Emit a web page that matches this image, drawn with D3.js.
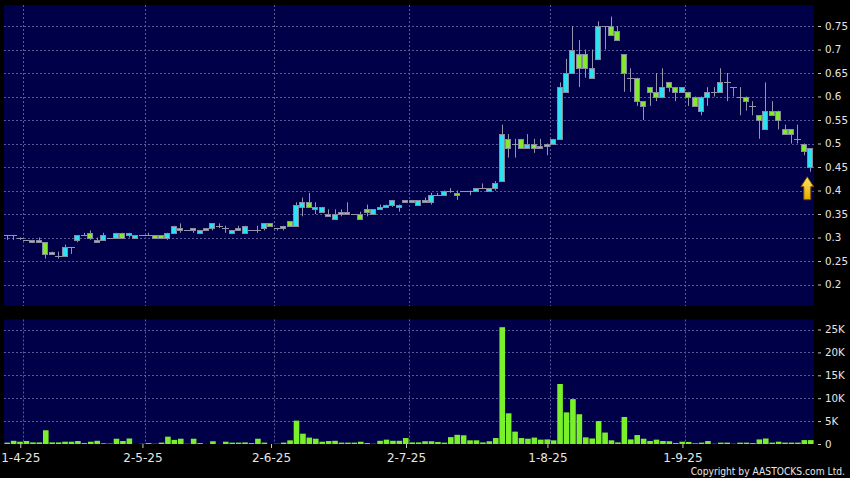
<!DOCTYPE html>
<html><head><meta charset="utf-8">
<script src="https://cdn.jsdelivr.net/npm/d3@7"></script>
<style>html,body{margin:0;padding:0;background:#000;overflow:hidden}</style>
</head><body><svg id="c" width="850" height="478"></svg>
<script>
// ---- data ----
const openP  = [.305,.305,.30,.295,.29,.295,.29,.27,.26,.26,.28,.295,.305,.31,.29,.295,.30,.30,.31,.305,.30,.305,.305,.305,.305,.30,.31,.32,.315,.315,.31,.315,.32,.325,.32,.31,.315,.31,.315,.315,.32,.33,.32,.32,.335,.325,.365,.375,.36,.355,.35,.34,.355,.35,.35,.35,.36,.35,.36,.365,.37,.365,.38,.375,.37,.375,.375,.39,.39,.40,.395,.40,.40,.40,.405,.40,.405,.42,.51,.50,.51,.49,.50,.49,.495,.50,.51,.61,.65,.69,.69,.64,.68,.75,.75,.74,.69,.64,.64,.59,.62,.61,.60,.63,.62,.61,.61,.60,.57,.60,.61,.61,.63,.62,.60,.60,.58,.56,.53,.57,.57,.53,.53,.51,.50,.45];
const highP  = [.305,.305,.30,.295,.295,.30,.29,.27,.27,.285,.28,.305,.31,.315,.30,.31,.30,.31,.31,.31,.305,.305,.31,.305,.305,.31,.325,.33,.315,.32,.315,.32,.33,.33,.325,.315,.325,.325,.315,.325,.33,.33,.32,.325,.335,.375,.385,.395,.375,.365,.36,.36,.36,.375,.35,.355,.37,.36,.37,.37,.38,.37,.38,.38,.38,.385,.395,.395,.40,.405,.40,.40,.40,.405,.415,.405,.42,.54,.52,.51,.51,.52,.51,.51,.50,.51,.63,.68,.75,.72,.70,.70,.76,.75,.77,.75,.69,.66,.64,.59,.62,.65,.66,.63,.62,.62,.61,.60,.60,.62,.62,.66,.65,.62,.62,.60,.59,.56,.63,.59,.57,.54,.53,.54,.50,.49];
const lowP   = [.295,.295,.295,.295,.29,.29,.255,.265,.255,.26,.265,.29,.305,.295,.29,.295,.30,.30,.30,.30,.30,.305,.305,.30,.30,.295,.31,.31,.315,.31,.31,.315,.315,.32,.31,.31,.315,.31,.315,.31,.315,.325,.315,.315,.325,.325,.345,.365,.35,.355,.345,.34,.345,.35,.35,.34,.345,.35,.36,.365,.365,.355,.375,.375,.37,.375,.37,.39,.39,.395,.38,.40,.39,.40,.405,.40,.40,.42,.47,.47,.49,.49,.48,.49,.475,.50,.51,.61,.65,.62,.64,.64,.68,.70,.73,.72,.61,.61,.58,.55,.58,.59,.60,.61,.59,.61,.58,.58,.56,.58,.60,.61,.59,.60,.56,.57,.56,.51,.53,.56,.53,.52,.50,.50,.475,.44];
const closeP = [.305,.305,.30,.295,.295,.29,.265,.265,.26,.28,.28,.305,.305,.30,.295,.305,.30,.31,.30,.31,.305,.305,.305,.30,.30,.31,.325,.315,.315,.32,.315,.32,.33,.325,.32,.315,.32,.325,.315,.315,.33,.325,.32,.325,.325,.37,.375,.365,.365,.365,.345,.35,.35,.355,.35,.34,.355,.36,.365,.37,.38,.37,.375,.38,.38,.38,.39,.39,.40,.40,.39,.40,.40,.405,.405,.405,.415,.52,.49,.50,.49,.50,.49,.495,.50,.51,.62,.65,.70,.66,.66,.66,.75,.75,.73,.72,.65,.64,.59,.58,.61,.60,.62,.62,.61,.62,.60,.58,.60,.61,.61,.63,.63,.62,.60,.59,.58,.55,.57,.56,.55,.52,.52,.51,.485,.49];
const volumeK = [0.3,0.7,0.5,0.65,0.35,0.35,3.0,0.35,0.35,0.5,0.5,0.65,0.2,0.5,0.7,0.15,0.1,1.15,0.65,1.2,0,0.05,0.2,0.05,0.3,1.6,0.9,1.15,0.05,1.15,0.2,0,0.6,0,0.5,0.3,0.3,0.35,0.2,1.15,0.3,0,0.05,0.3,0.8,5.1,2.25,1.4,1.15,0.5,0.65,0.7,0.3,0.3,0.3,0.5,0.2,0.05,0.7,0.95,0.7,0.7,1.3,0.35,0.35,0.6,0.6,0.45,0.3,1.5,2.0,1.9,0.8,0.8,0.35,0.6,1.3,25.5,6.7,2.7,1.3,1.15,1.4,0.95,1.0,0.8,13.1,6.9,9.8,6.5,1.45,1.2,5.0,2.5,0.8,0.35,5.9,1.0,1.95,1.15,0.65,0.95,0.65,0.6,0.2,0.5,0.45,0.15,0.3,0.65,0.05,0.3,0.3,0.05,0.3,0.3,0.2,1.0,1.2,0.3,0.5,0.3,0.3,0.3,0.85,0.85];
const priceTicks = [0.2,0.25,0.3,0.35,0.4,0.45,0.5,0.55,0.6,0.65,0.7,0.75];
const volumeTicks = [0,5,10,15,20,25];
const monthLabels = ["1-4-25","2-5-25","2-6-25","2-7-25","1-8-25","1-9-25"];
const monthStartIndex = [3,22,42,63,85,106];

// ---- drawing ----
const svg = d3.select("#c");
const n = openP.length;
const idx = d3.range(n);
const L = 4, R = 814;
const x = d3.scaleBand().domain(idx).range([L, R]).padding(0);
const step = x.step();
const cx = i => x(i) + step / 2;
const yP = d3.scaleLinear().domain([0.2, 0.75]).range([284.5, 26]);
const yV = d3.scaleLinear().domain([0, 25]).range([444, 329.5]);
const pTop = 5, pBot = 306, vTop = 319.5, vBot = 444;

const NAVY = "#000048", GRID = "#5a5a96", WICK = "#9494aa", EDGE = "#8a8aa0";
const CYAN = "#2ae2f2", GREEN = "#82ea2c", VOL = "#7af02a", TXT = "#e6e6e6";

svg.append("rect").attr("width", 850).attr("height", 478).attr("fill", "#000");
svg.append("rect").attr("x", L).attr("y", pTop).attr("width", R - L).attr("height", pBot - pTop).attr("fill", NAVY);
svg.append("rect").attr("x", L).attr("y", vTop).attr("width", R - L).attr("height", vBot - vTop).attr("fill", NAVY);

const crisp = v => Math.round(v) + 0.5;
const grid = svg.append("g").attr("stroke", GRID).attr("stroke-width", 1).attr("stroke-dasharray", "2,2").attr("fill", "none");
priceTicks.forEach(t => grid.append("line").attr("x1", L).attr("x2", R).attr("y1", crisp(yP(t))).attr("y2", crisp(yP(t))));
volumeTicks.filter(t => t > 0).forEach(t => grid.append("line").attr("x1", L).attr("x2", R).attr("y1", crisp(yV(t))).attr("y2", crisp(yV(t))));
monthStartIndex.forEach(i => {
  const gx = crisp(x(i) - 0.5);
  grid.append("line").attr("x1", gx).attr("x2", gx).attr("y1", pTop).attr("y2", pBot);
  grid.append("line").attr("x1", gx).attr("x2", gx).attr("y1", vTop).attr("y2", vBot);
});

// volume bars
svg.append("g").selectAll("rect").data(idx).join("rect")
  .attr("x", i => cx(i) - 2.8).attr("width", 5.6)
  .attr("y", i => yV(volumeK[i])).attr("height", i => yV(0) - yV(volumeK[i]))
  .attr("fill", VOL);

// candles
const cg = svg.append("g");
cg.selectAll("line.w").data(idx).join("line").attr("class", "w")
  .attr("x1", i => crisp(cx(i) - 0.5)).attr("x2", i => crisp(cx(i) - 0.5))
  .attr("y1", i => yP(highP[i])).attr("y2", i => yP(lowP[i]))
  .attr("stroke", WICK).attr("stroke-width", 1);
const flat = idx.filter(i => openP[i] === closeP[i]);
const body = idx.filter(i => openP[i] !== closeP[i]);
cg.selectAll("line.f").data(flat).join("line").attr("class", "f")
  .attr("x1", i => Math.round(cx(i) - 3.5)).attr("x2", i => Math.round(cx(i) - 3.5) + 7)
  .attr("y1", i => crisp(yP(openP[i]))).attr("y2", i => crisp(yP(openP[i])))
  .attr("stroke", WICK).attr("stroke-width", 1);
cg.selectAll("rect").data(body).join("rect")
  .attr("x", i => Math.round(cx(i) - 3.5) + 0.5).attr("width", 5)
  .attr("y", i => Math.round(yP(Math.max(openP[i], closeP[i]))) + 0.5)
  .attr("height", i => Math.max(1, Math.round(yP(Math.min(openP[i], closeP[i]))) - Math.round(yP(Math.max(openP[i], closeP[i])))))
  .attr("fill", i => closeP[i] > openP[i] ? CYAN : GREEN)
  .attr("stroke", EDGE).attr("stroke-width", 1);

// arrow under the last candle
const last = n - 1;
const ax = cx(last) - 3.5, ay = yP(lowP[last]) + 5;
const defs = svg.append("defs");
const gr = defs.append("linearGradient").attr("id", "ag").attr("x1", 0).attr("y1", 0).attr("x2", 0).attr("y2", 1);
gr.append("stop").attr("offset", "0%").attr("stop-color", "#ffe860");
gr.append("stop").attr("offset", "100%").attr("stop-color", "#e8a800");
svg.append("path")
  .attr("d", `M${ax},${ay} L${ax + 6.5},${ay + 10} L${ax + 3.5},${ay + 10} L${ax + 3.5},${ay + 23} L${ax - 3.5},${ay + 23} L${ax - 3.5},${ay + 10} L${ax - 6.5},${ay + 10} Z`)
  .attr("fill", "url(#ag)").attr("stroke", "#6a4a00").attr("stroke-width", 1);

// axes
function styleAxis(g, size) {
  g.select(".domain").remove();
  g.selectAll(".tick line").attr("stroke", "#c8c8c8");
  g.selectAll(".tick text").attr("fill", TXT).style("font-family", "DejaVu Sans, Verdana, sans-serif").style("font-size", size + "px");
}
svg.append("g").attr("transform", "translate(818,0)")
  .call(d3.axisRight(yP).tickValues(priceTicks).tickSize(3).tickPadding(4).tickFormat(d => String(+d.toFixed(2))))
  .call(g => styleAxis(g, 10.3));
svg.append("g").attr("transform", "translate(818,0)")
  .call(d3.axisRight(yV).tickValues(volumeTicks).tickSize(3).tickPadding(4).tickFormat(d => d === 0 ? "0" : d + "K"))
  .call(g => styleAxis(g, 10.3));
svg.append("g").attr("transform", `translate(${-step / 2 - 2.5},${vBot})`)
  .call(d3.axisBottom(x).tickValues(monthStartIndex).tickSize(4).tickPadding(5).tickFormat((d, k) => monthLabels[k]))
  .call(g => styleAxis(g, 12));

svg.append("text").attr("x", 845).attr("y", 474.5).attr("text-anchor", "end")
  .attr("fill", TXT).style("font-family", "DejaVu Sans Condensed, DejaVu Sans, sans-serif")
  .style("font-stretch", "condensed").style("font-size", "10.2px")
  .text("Copyright by AASTOCKS.com Ltd.");
</script></body></html>
